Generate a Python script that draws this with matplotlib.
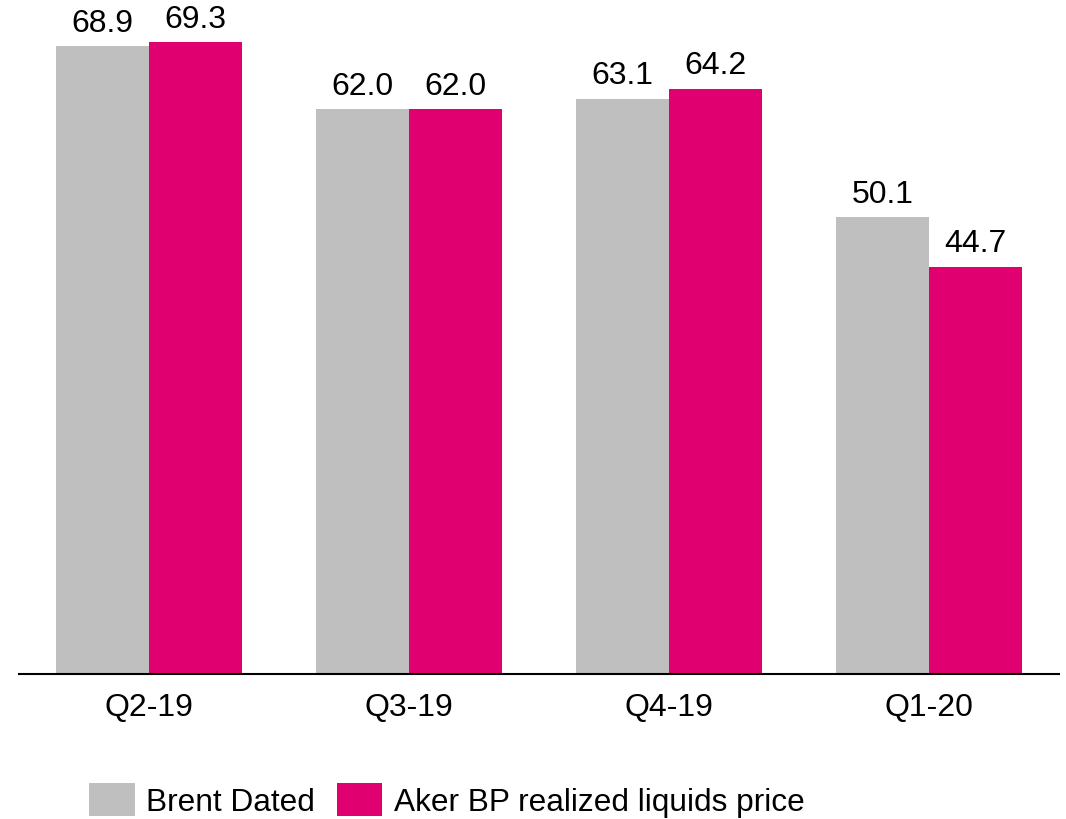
import matplotlib
matplotlib.use("Agg")
import matplotlib.pyplot as plt
import numpy as np
from matplotlib.patches import Patch

plt.rcParams['font.family'] = ['Liberation Sans', 'DejaVu Sans']

quarters = ["Q2-19", "Q3-19", "Q4-19", "Q1-20"]
brent_dated = [68.9, 62.0, 63.1, 50.1]
aker_realized = [69.3, 62.0, 64.2, 44.7]
series_names = ["Brent Dated", "Aker BP realized liquids price"]

grey = "#BFBFBF"
magenta = "#E0006F"

fig = plt.figure(figsize=(10.66, 8.2), dpi=100)
ax = fig.add_axes([19 / 1066, 145 / 820, 1040 / 1066, 675 / 820])

x = np.arange(len(quarters))
w = 0.358
b1 = ax.bar(x - w / 2, brent_dated, width=w, color=grey)
b2 = ax.bar(x + w / 2, aker_realized, width=w, color=magenta)

for bars, vals in ((b1, brent_dated), (b2, aker_realized)):
    for bar, v in zip(bars, vals):
        ax.annotate(f"{v:.1f}", (bar.get_x() + bar.get_width() / 2, v),
                    xytext=(0, 6), textcoords="offset points",
                    ha="center", va="bottom", fontsize=23)

ax.set_xlim(-0.5, len(quarters) - 0.5)
ax.set_ylim(0, 74.05)
ax.set_xticks(x)
ax.set_xticklabels(quarters, fontsize=23)
ax.tick_params(axis="x", length=0, pad=13)
ax.set_yticks([])
for side in ("top", "right", "left"):
    ax.spines[side].set_visible(False)
ax.spines["bottom"].set_linewidth(1.5)

handles = [Patch(facecolor=grey), Patch(facecolor=magenta)]
fig.legend(handles, series_names, loc="center", bbox_to_anchor=(447 / 1066, 1 - 801 / 820),
           ncol=2, frameon=False, fontsize=22.8, handlelength=1.43, handleheight=1.2,
           handletextpad=0.36, columnspacing=0.7, borderpad=0.2)

fig.savefig("out.png", dpi=100)
